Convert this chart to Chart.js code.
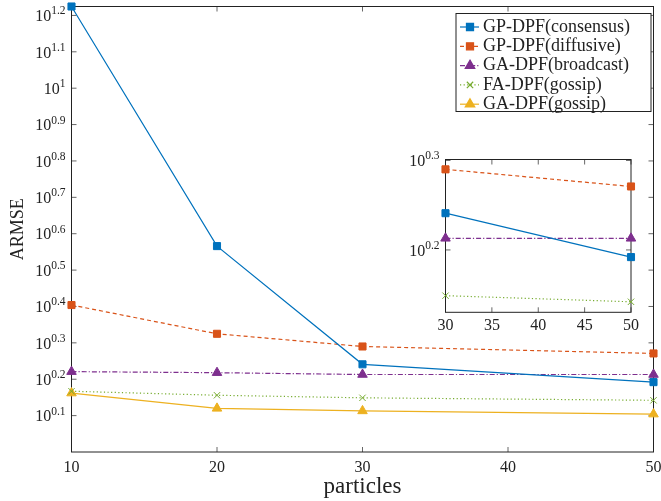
<!DOCTYPE html>
<html>
<head>
<meta charset="utf-8">
<script src="https://cdn.jsdelivr.net/npm/chart.js@4.4.1/dist/chart.umd.min.js"></script>
<style>
  html, body { margin: 0; padding: 0; background: #fff; }
  #wrap { position: relative; width: 661px; height: 501px; }
  #main { position: absolute; left: 0; top: 0; }
  #inset { position: absolute; left: 380px; top: 145px; }
</style>
</head>
<body>
<div id="wrap">
  <canvas id="main" width="661" height="501"></canvas>
  <canvas id="inset" width="260" height="190"></canvas>
</div>
<script>
// ── data (ARMSE) ────────────────────────────────────────────────────────────
const particles   = [10, 20, 30, 50];
const gpConsensus = [16.77, 3.681, 1.742, 1.556];
const gpDiffusive = [2.535, 2.113, 1.950, 1.866];
const gaBroadcast = [1.663, 1.652, 1.633, 1.633];
const faGossip    = [1.469, 1.432, 1.409, 1.387];
const gaGossip    = [1.452, 1.318, 1.297, 1.271];

const seriesNames  = ['GP-DPF(consensus)', 'GP-DPF(diffusive)', 'GA-DPF(broadcast)', 'FA-DPF(gossip)', 'GA-DPF(gossip)'];
const seriesValues = [gpConsensus, gpDiffusive, gaBroadcast, faGossip, gaGossip];

const xTicks         = [10, 20, 30, 40, 50];
const yTickExps      = ['0.1', '0.2', '0.3', '0.4', '0.5', '0.6', '0.7', '0.8', '0.9', '1', '1.1', '1.2'];
const insetXTicks    = [30, 35, 40, 45, 50];
const insetYTickExps = ['0.2', '0.3'];

// ── styles ───────────────────────────────────────────────────────────────────
const SERIF = '"Liberation Serif", "DejaVu Serif", serif';
const INK = '#222';
const seriesColors = ['#0072BD', '#D95319', '#7E2F8E', '#77AC30', '#EDB120'];
const seriesDash   = [[], [4, 3], [5, 2, 1.2, 2], [1.2, 2.4], []];
const seriesMarker = ['rect', 'rect', 'triangle', 'crossRot', 'triangle'];
const markerRadius = [5, 5, 5.5, 4.5, 5.5];

function makeDatasets(xMin) {
  return seriesNames.map((name, i) => ({
    label: name,
    data: particles.map((p, j) => ({ x: p, y: seriesValues[i][j] })).filter(pt => pt.x >= xMin),
    borderColor: seriesColors[i],
    backgroundColor: seriesColors[i],
    borderWidth: 1.2,
    borderDash: seriesDash[i],
    pointStyle: seriesMarker[i],
    pointRadius: markerRadius[i],
    pointBorderWidth: 1,
    tension: 0,
    clip: 6
  }));
}

// frame with inward ticks on all four sides, plus 10^{e} labels on y
function framePlugin(expLabels, labelGap) {
  return {
    id: 'frame',
    beforeDatasetsDraw(chart) {
      const { ctx, chartArea: a, scales: { x, y } } = chart;
      const TL = 5;
      ctx.save();
      ctx.fillStyle = '#fff';
      ctx.fillRect(a.left, a.top, a.width, a.height);
      ctx.strokeStyle = '#666';
      ctx.lineWidth = 1;
      ctx.beginPath();
      x.ticks.forEach(t => {
        const px = x.getPixelForValue(t.value);
        ctx.moveTo(px, a.bottom); ctx.lineTo(px, a.bottom - TL);
        ctx.moveTo(px, a.top);    ctx.lineTo(px, a.top + TL);
      });
      y.ticks.forEach(t => {
        const py = y.getPixelForValue(t.value);
        ctx.moveTo(a.left, py);  ctx.lineTo(a.left + TL, py);
        ctx.moveTo(a.right, py); ctx.lineTo(a.right - TL, py);
      });
      ctx.stroke();
      ctx.strokeStyle = INK;
      ctx.strokeRect(a.left, a.top, a.width, a.height);

      // y tick labels as 10 with a raised exponent
      ctx.fillStyle = INK;
      const xr = a.left - labelGap;
      expLabels.forEach(e => {
        const py = y.getPixelForValue(Math.pow(10, parseFloat(e)));
        ctx.font = '11.5px ' + SERIF;
        ctx.textAlign = 'right';
        ctx.textBaseline = 'alphabetic';
        const w = ctx.measureText(e).width;
        ctx.fillText(e, xr, py - 1);
        ctx.font = '16px ' + SERIF;
        ctx.textBaseline = 'middle';
        ctx.fillText('10', xr - w, py + 1.5);
      });
      ctx.restore();
    }
  };
}

const legendPlugin = {
  id: 'lineLegend',
  afterDraw(chart) {
    const { ctx } = chart;
    const bx = 456, by = 13.5, bw = 195, bh = 98;
    ctx.save();
    ctx.fillStyle = '#fff';
    ctx.fillRect(bx, by, bw, bh);
    ctx.strokeStyle = INK;
    ctx.lineWidth = 1;
    ctx.strokeRect(bx, by, bw, bh);
    chart.data.datasets.forEach((ds, i) => {
      const cy = by + 13.5 + i * 19.3;
      ctx.strokeStyle = ds.borderColor;
      ctx.fillStyle = ds.backgroundColor;
      ctx.lineWidth = ds.borderWidth;
      ctx.setLineDash(ds.borderDash);
      ctx.beginPath();
      ctx.moveTo(bx + 4, cy);
      ctx.lineTo(bx + 23, cy);
      ctx.stroke();
      ctx.setLineDash([]);
      Chart.helpers.drawPoint(ctx, { pointStyle: ds.pointStyle, radius: ds.pointRadius, borderWidth: 1, rotation: 0 }, bx + 14, cy);
      ctx.fillStyle = INK;
      ctx.font = '18px ' + SERIF;
      ctx.textAlign = 'left';
      ctx.textBaseline = 'middle';
      ctx.fillText(ds.label, bx + 27, cy);
    });
    ctx.restore();
  }
};

const tickFont = { family: SERIF, size: 16 };
const noSidePadding = s => { s.paddingLeft = 0; s.paddingRight = 0; };

new Chart(document.getElementById('main'), {
  type: 'line',
  data: { datasets: makeDatasets(10) },
  options: {
    responsive: false,
    animation: false,
    devicePixelRatio: 1,
    events: [],
    layout: { padding: { left: 0, top: 5, right: 7.5, bottom: 0 } },
    plugins: { legend: { display: false }, tooltip: { enabled: false } },
    scales: {
      x: {
        type: 'linear', min: 10, max: 50,
        afterBuildTicks: s => { s.ticks = xTicks.map(v => ({ value: v })); },
        afterFit: s => { s.height = 49; noSidePadding(s); },
        grid: { display: false, drawTicks: false },
        border: { display: false },
        ticks: { font: tickFont, color: INK, padding: 6, maxRotation: 0 },
        title: { display: true, text: 'particles', color: INK, font: { family: SERIF, size: 23 }, padding: { top: 0, bottom: 0 } }
      },
      y: {
        type: 'logarithmic', min: 1, max: 16.77,
        afterBuildTicks: s => { s.ticks = yTickExps.map(e => ({ value: Math.pow(10, parseFloat(e)) })); },
        afterFit: s => { s.width = 71.5; },
        grid: { display: false, drawTicks: false },
        border: { display: false },
        ticks: { display: false },
        title: { display: true, text: 'ARMSE', color: INK, font: { family: SERIF, size: 18 }, padding: { top: 7.5, bottom: 0 } }
      }
    }
  },
  plugins: [framePlugin(yTickExps, 6), legendPlugin]
});

new Chart(document.getElementById('inset'), {
  type: 'line',
  data: { datasets: makeDatasets(30) },
  options: {
    responsive: false,
    animation: false,
    devicePixelRatio: 1,
    events: [],
    layout: { padding: { left: 0, top: 14.5, right: 9, bottom: 0 } },
    plugins: { legend: { display: false }, tooltip: { enabled: false } },
    scales: {
      x: {
        type: 'linear', min: 30, max: 50,
        afterBuildTicks: s => { s.ticks = insetXTicks.map(v => ({ value: v })); },
        afterFit: s => { s.height = 22.7; noSidePadding(s); },
        grid: { display: false, drawTicks: false },
        border: { display: false },
        ticks: { font: tickFont, color: INK, padding: 4, maxRotation: 0 }
      },
      y: {
        type: 'logarithmic', min: 1.35, max: 2,
        afterBuildTicks: s => { s.ticks = insetYTickExps.map(e => ({ value: Math.pow(10, parseFloat(e)) })); },
        afterFit: s => { s.width = 65.5; },
        grid: { display: false, drawTicks: false },
        border: { display: false },
        ticks: { display: false }
      }
    }
  },
  plugins: [framePlugin(insetYTickExps, 6)]
});
</script>
</body>
</html>
